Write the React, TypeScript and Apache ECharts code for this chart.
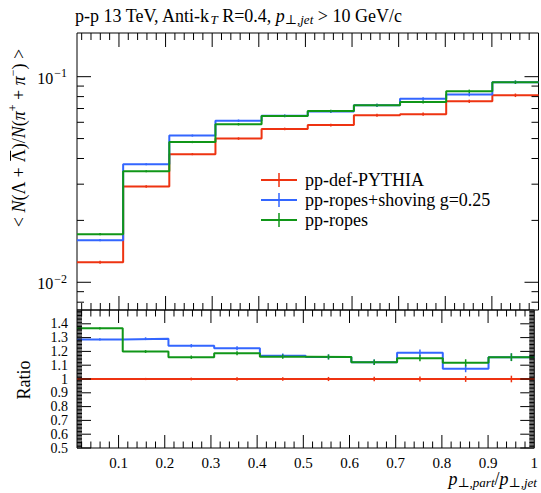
import React, { useEffect, useRef } from 'react';
import * as echarts from 'echarts';

// ---- data ----
const binEdges = [0.01, 0.109, 0.208, 0.307, 0.406, 0.505, 0.604, 0.703, 0.802, 0.901, 1.0];
const seriesNames = ['pp-def-PYTHIA', 'pp-ropes+shoving g=0.25', 'pp-ropes'];
const seriesColors = ['#EE3311', '#3366FF', '#109618'];

const redValues = [0.01252, 0.0292, 0.042, 0.05, 0.0557, 0.0582, 0.0649, 0.0657, 0.0759, 0.0812];
const blueValues = [0.01603, 0.0375, 0.0517, 0.0611, 0.0645, 0.0678, 0.0727, 0.078, 0.0818, 0.094];
const greenValues = [0.01714, 0.0347, 0.0481, 0.0587, 0.0644, 0.068, 0.0726, 0.0753, 0.0849, 0.094];

const redErrors = [0.0002, 0.0004, 0.0005, 0.0007, 0.0008, 0.0009, 0.0011, 0.0012, 0.0014, 0.0016];
const blueErrors = [0.0002, 0.0004, 0.0006, 0.0008, 0.0009, 0.001, 0.0012, 0.0014, 0.0015, 0.0017];
const greenErrors = [0.0002, 0.0004, 0.0006, 0.0008, 0.0009, 0.001, 0.0012, 0.0013, 0.0016, 0.0018];

const ratioRed = [1, 1, 1, 1, 1, 1, 1, 1, 1, 1];
const ratioBlue = [1.287, 1.292, 1.241, 1.223, 1.168, 1.16, 1.121, 1.19, 1.075, 1.158];
const ratioGreen = [1.367, 1.199, 1.158, 1.187, 1.162, 1.16, 1.121, 1.15, 1.117, 1.158];

const ratioRedErrors = [0.006, 0.008, 0.01, 0.012, 0.013, 0.015, 0.017, 0.019, 0.021, 0.024];
const ratioBlueErrors = [0.008, 0.01, 0.012, 0.014, 0.016, 0.018, 0.02, 0.024, 0.026, 0.028];
const ratioGreenErrors = [0.008, 0.01, 0.012, 0.014, 0.016, 0.018, 0.02, 0.022, 0.026, 0.028];

const xMajorTicks = [0.1, 0.2, 0.3, 0.4, 0.5, 0.6, 0.7, 0.8, 0.9];
const logMajorTicks = [0.01, 0.1];
const logMinorTicks = [0.008, 0.009, 0.02, 0.03, 0.04, 0.05, 0.06, 0.07, 0.08, 0.09];
const ratioMajorTicks = [0.5, 0.6, 0.7, 0.8, 0.9, 1.0, 1.1, 1.2, 1.3, 1.4];

const FONT_NAME = "'Liberation Serif'";
const FONT = "'Liberation Serif', 'DejaVu Serif', serif";

function range(start: number, end: number, step: number): number[] {
  const out: number[] = [];
  for (let k = 0; start + k * step <= end + 1e-9; k++) out.push(Math.round((start + k * step) * 1000) / 1000);
  return out;
}

const xMinorTicks = range(0.02, 0.98, 0.02).filter((v) => Math.abs(v * 10 - Math.round(v * 10)) > 1e-6);
const ratioMinorTicks = range(0.5, 1.5, 0.01).filter((v) => Math.abs(v * 10 - Math.round(v * 10)) > 1e-6);

function stepData(vals: number[]) {
  const d = vals.map((v, i) => [binEdges[i], v]);
  d.push([binEdges[binEdges.length - 1], vals[vals.length - 1]]);
  return d;
}

function errData(vals: number[], errs: number[]) {
  return vals.map((v, i) => [(binEdges[i] + binEdges[i + 1]) / 2, v, errs[i]]);
}

function tickSeries(gridIndex: number, refX: number, refY: number, xMaj: number[], xMin: number[], yMaj: number[], yMin: number[], lens: number[]) {
  return {
    type: 'custom',
    xAxisIndex: gridIndex,
    yAxisIndex: gridIndex,
    silent: true,
    z: 5,
    data: [[refX, refY]],
    renderItem: (params: any, api: any) => {
      const cs = params.coordSys;
      const top = cs.y;
      const bottom = cs.y + cs.height;
      const left = cs.x;
      const right = cs.x + cs.width;
      const children: any[] = [];
      const st = { stroke: '#000', lineWidth: 1 };
      const addX = (vals: number[], len: number) => {
        vals.forEach((v) => {
          const px = api.coord([v, refY])[0];
          children.push({ type: 'line', shape: { x1: px, y1: bottom, x2: px, y2: bottom - len }, style: st });
          children.push({ type: 'line', shape: { x1: px, y1: top, x2: px, y2: top + len }, style: st });
        });
      };
      const addY = (vals: number[], len: number) => {
        vals.forEach((v) => {
          const py = api.coord([refX, v])[1];
          children.push({ type: 'line', shape: { x1: left, y1: py, x2: left + len, y2: py }, style: st });
          children.push({ type: 'line', shape: { x1: right, y1: py, x2: right - len, y2: py }, style: st });
        });
      };
      addX(xMaj, lens[0]);
      addX(xMin, lens[1]);
      addY(yMaj, lens[2]);
      addY(yMin, lens[3]);
      return { type: 'group', children };
    },
  };
}

function errSeries(gridIndex: number, data: number[][], color: string) {
  return {
    type: 'custom',
    xAxisIndex: gridIndex,
    yAxisIndex: gridIndex,
    silent: true,
    z: 4,
    data,
    renderItem: (params: any, api: any) => {
      const x = api.value(0);
      const v = api.value(1);
      const e = api.value(2);
      const p1 = api.coord([x, v - e]);
      const p2 = api.coord([x, v + e]);
      return {
        type: 'line',
        shape: { x1: p1[0], y1: p1[1], x2: p2[0], y2: p2[1] },
        style: { stroke: color, lineWidth: 1.5 },
      };
    },
  };
}

function lineSeries(gridIndex: number, name: string, vals: number[], color: string) {
  return {
    type: 'line',
    name,
    xAxisIndex: gridIndex,
    yAxisIndex: gridIndex,
    data: stepData(vals),
    step: 'end',
    symbol: 'none',
    silent: true,
    z: 3,
    lineStyle: { color, width: 2 },
  };
}

// y-axis title built from measured pieces so that the overline on the anti-Lambda can be drawn
function buildYTitle(cx: number, cy: number) {
  const ctx = document.createElement('canvas').getContext('2d') as CanvasRenderingContext2D;
  const styles: Record<string, { size: number; italic: boolean; dy: number }> = {
    r: { size: 18, italic: false, dy: 0 },
    i: { size: 18, italic: true, dy: 0 },
    sup: { size: 12, italic: false, dy: -6 },
  };
  const pieces: { t: string; s: string; bar?: boolean }[] = [
    { t: '< ', s: 'r' },
    { t: 'N', s: 'i' },
    { t: '(\u039b + ', s: 'r' },
    { t: '\u039b', s: 'r', bar: true },
    { t: ')/', s: 'r' },
    { t: 'N', s: 'i' },
    { t: '(', s: 'r' },
    { t: '\u03c0', s: 'i' },
    { t: '+', s: 'sup' },
    { t: ' + ', s: 'r' },
    { t: '\u03c0', s: 'i' },
    { t: '\u2212', s: 'sup' },
    { t: ') >', s: 'r' },
  ];
  const widths = pieces.map((p) => {
    const st = styles[p.s];
    ctx.font = `${st.italic ? 'italic ' : ''}${st.size}px ${FONT_NAME}, serif`;
    return ctx.measureText(p.t).width;
  });
  const total = widths.reduce((a, b) => a + b, 0);
  let x = -total / 2;
  const children: any[] = [];
  pieces.forEach((p, k) => {
    const st = styles[p.s];
    children.push({
      type: 'text',
      x,
      y: st.dy,
      style: {
        text: p.t,
        fontFamily: FONT,
        fontSize: st.size,
        fontStyle: st.italic ? 'italic' : 'normal',
        fill: '#000',
        align: 'left',
        verticalAlign: 'middle',
      },
    });
    if (p.bar) {
      children.push({
        type: 'line',
        shape: { x1: x + 1.5, y1: -8.5, x2: x + widths[k] - 1.5, y2: -8.5 },
        style: { stroke: '#000', lineWidth: 1 },
      });
    }
    x += widths[k];
  });
  return { type: 'group', x: cx, y: cy, rotation: Math.PI / 2, children };
}

export default function App() {
  const ref = useRef<HTMLDivElement>(null);
  useEffect(() => {
    if (!ref.current) return;
    const chart = echarts.init(ref.current, undefined, { renderer: 'svg' });

    const topVals = [redValues, blueValues, greenValues];
    const topErrs = [redErrors, blueErrors, greenErrors];
    const ratVals = [ratioRed, ratioBlue, ratioGreen];
    const ratErrs = [ratioRedErrors, ratioBlueErrors, ratioGreenErrors];

    const series: any[] = [];
    for (let i = 0; i < 3; i++) {
      series.push(lineSeries(0, seriesNames[i], topVals[i], seriesColors[i]));
      series.push(errSeries(0, errData(topVals[i], topErrs[i]), seriesColors[i]));
      series.push(lineSeries(1, seriesNames[i], ratVals[i], seriesColors[i]));
      series.push(errSeries(1, errData(ratVals[i], ratErrs[i]), seriesColors[i]));
    }
    series.push(tickSeries(0, 0.5, 0.05, xMajorTicks, xMinorTicks, logMajorTicks, logMinorTicks, [14, 7, 14, 7]));
    series.push(tickSeries(1, 0.5, 1.0, xMajorTicks, xMinorTicks, ratioMajorTicks, ratioMinorTicks, [13, 6.5, 14, 5]));

    const legendGraphics: any[] = [];
    const legendRows = [180, 200, 220];
    for (let i = 0; i < 3; i++) {
      const y = legendRows[i];
      legendGraphics.push({ type: 'line', shape: { x1: 261, y1: y, x2: 297, y2: y }, style: { stroke: seriesColors[i], lineWidth: 2 } });
      legendGraphics.push({ type: 'line', shape: { x1: 279, y1: y - 7, x2: 279, y2: y + 7 }, style: { stroke: seriesColors[i], lineWidth: 1.5 } });
      legendGraphics.push({
        type: 'text',
        x: 305,
        y,
        style: { text: seriesNames[i], fontFamily: FONT, fontSize: 18, fill: '#000', align: 'left', verticalAlign: 'middle' },
      });
    }

    const baseRich = {
      r: { fontFamily: FONT, fontSize: 18, fill: '#000' },
      i: { fontFamily: FONT, fontSize: 18, fontStyle: 'italic', fill: '#000' },
      sub: { fontFamily: FONT, fontSize: 13, fontStyle: 'italic', fill: '#000', padding: [6, 0, 0, 0] },
    };

    chart.setOption({
      animation: false,
      backgroundColor: '#fff',
      grid: [
        { left: 77, top: 33, width: 461.5, height: 277, show: true, borderColor: '#000', borderWidth: 1, backgroundColor: 'transparent' },
        { left: 77, top: 310, width: 461.5, height: 138, show: true, borderColor: '#000', borderWidth: 1, backgroundColor: 'transparent' },
      ],
      xAxis: [
        {
          type: 'value', gridIndex: 0, min: 0.01, max: 1.0, splitNumber: 10,
          axisLabel: { show: false }, axisTick: { show: false }, axisLine: { show: false }, splitLine: { show: false },
        },
        {
          type: 'value', gridIndex: 1, min: 0.01, max: 1.0, splitNumber: 10,
          axisTick: { show: false }, axisLine: { show: false }, splitLine: { show: false },
          axisLabel: {
            show: true, margin: 7, fontFamily: FONT, fontSize: 15, color: '#000',
            formatter: (v: number) => (v < 0.05 ? '' : String(Math.round(v * 10) / 10)),
          },
        },
      ],
      yAxis: [
        {
          type: 'log', logBase: 10, gridIndex: 0, min: 0.00733, max: 0.1631,
          axisTick: { show: false }, axisLine: { show: false }, splitLine: { show: false },
          axisLabel: {
            show: true, margin: 10, color: '#000',
            formatter: (v: number) => {
              const l = Math.log10(v);
              if (Math.abs(l - Math.round(l)) > 1e-6) return '';
              return '{b|10}{s|\u2212' + Math.abs(Math.round(l)) + '}';
            },
            rich: {
              b: { fontFamily: FONT, fontSize: 16, color: '#000', verticalAlign: 'bottom' },
              s: { fontFamily: FONT, fontSize: 12, color: '#000', verticalAlign: 'bottom', padding: [0, 0, 7, 1] },
            },
          },
        },
        {
          type: 'value', gridIndex: 1, min: 0.5, max: 1.5, interval: 0.1,
          axisTick: { show: false }, axisLine: { show: false }, splitLine: { show: false },
          axisLabel: {
            show: true, showMinLabel: true, hideOverlap: false, margin: 9, fontFamily: FONT, fontSize: 14, lineHeight: 12, color: '#000',
            formatter: (v: number) => (v > 1.45 ? '' : String(Math.round(v * 10) / 10)),
          },
        },
      ],
      series,
      graphic: [
        {
          type: 'text', x: 75, y: 16,
          style: {
            text: '{r|p-p 13 TeV, Anti-k}{sub|T}{r| R=0.4, }{i|p}{sub|\u22a5,jet}{r| > 10 GeV/c}',
            rich: baseRich, align: 'left', verticalAlign: 'middle',
          },
        },
        buildYTitle(19, 138),
        {
          type: 'text', x: 24, y: 380, rotation: Math.PI / 2,
          style: { text: 'Ratio', fontFamily: FONT, fontSize: 18, fill: '#000', align: 'center', verticalAlign: 'middle' },
        },
        {
          type: 'text', x: 537, y: 479,
          style: {
            text: '{i|p}{sub|\u22a5,part}{r|/}{i|p}{sub|\u22a5,jet}',
            rich: baseRich, align: 'right', verticalAlign: 'middle',
          },
        },
        ...legendGraphics,
      ],
    });
    return () => chart.dispose();
  }, []);
  return <div ref={ref} style={{ position: 'fixed', left: 0, top: 0, width: 541, height: 493 }} />;
}
